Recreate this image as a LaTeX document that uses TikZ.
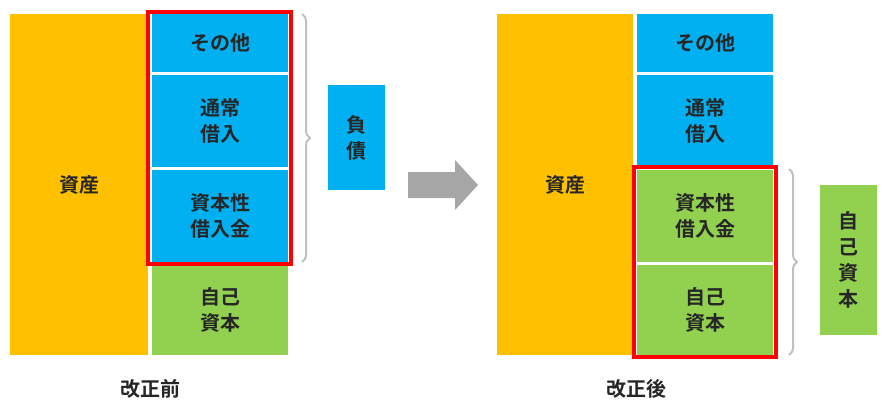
\documentclass[tikz,border=0pt]{standalone}
\usepackage{fontspec}
\setmainfont{Noto Sans CJK JP}[BoldFont={Noto Sans CJK JP Bold}]
\usetikzlibrary{decorations.pathreplacing}
\definecolor{cOrange}{HTML}{FFC000}
\definecolor{cBlue}{HTML}{00B0F0}
\definecolor{cGreen}{HTML}{92D050}
\definecolor{cRed}{HTML}{FF0000}
\definecolor{cGray}{HTML}{A6A6A6}
\definecolor{cBrace}{HTML}{BFBFBF}
\tikzset{
  blk/.style={inner sep=0pt,align=center,font=\fontsize{20}{26}\selectfont\bfseries,text=black!85},
  redbox/.style={draw=cRed,line width=4pt},
  brc/.style={draw=cBrace,line width=2pt,decorate,decoration={brace,amplitude=8pt}}
}
\begin{document}
\begin{tikzpicture}[x=1pt,y=-1pt]
\useasboundingbox (0,0) rectangle (887,420);

% before
\node[blk,fill=cOrange,minimum width=138,minimum height=341] (as1) at (79,184.5) {資産};
\node[blk,fill=cBlue,minimum width=136,minimum height=58] (ot1) at (220,43) {その他};
\node[blk,fill=cBlue,minimum width=136,minimum height=92] (lo1) at (220,121) {通常\\借入};
\node[blk,fill=cBlue,minimum width=136,minimum height=92] (cl1) at (220,216) {資本性\\借入金};
\node[blk,fill=cGreen,minimum width=136,minimum height=90] (eq1) at (220,310) {自己\\資本};
\draw[redbox] (148,12) rectangle (291,264);
\draw[brc] (302,14) -- (302,262);
\node[blk,fill=cBlue,minimum width=57,minimum height=105] (li) at (356.5,137.5) {負\\債};
\node[blk] (lb1) at (150,389) {改正前};

% arrow
\fill[cGray] (408,172) -- (455,172) -- (455,160) -- (478,185) -- (455,210) -- (455,198) -- (408,198) -- cycle;

% after
\node[blk,fill=cOrange,minimum width=136,minimum height=341] (as2) at (565,184.5) {資産};
\node[blk,fill=cBlue,minimum width=136,minimum height=58] (ot2) at (705,43) {その他};
\node[blk,fill=cBlue,minimum width=136,minimum height=92] (lo2) at (705,121) {通常\\借入};
\node[blk,fill=cGreen,minimum width=136,minimum height=92] (cl2) at (705,216) {資本性\\借入金};
\node[blk,fill=cGreen,minimum width=136,minimum height=90] (eq2) at (705,310) {自己\\資本};
\draw[redbox] (634,167) rectangle (776,357);
\draw[brc] (789,169) -- (789,355);
\node[blk,fill=cGreen,minimum width=57,minimum height=150] (eqs) at (848.5,260) {自\\己\\資\\本};
\node[blk] (lb2) at (636,389) {改正後};
\end{tikzpicture}
\end{document}
